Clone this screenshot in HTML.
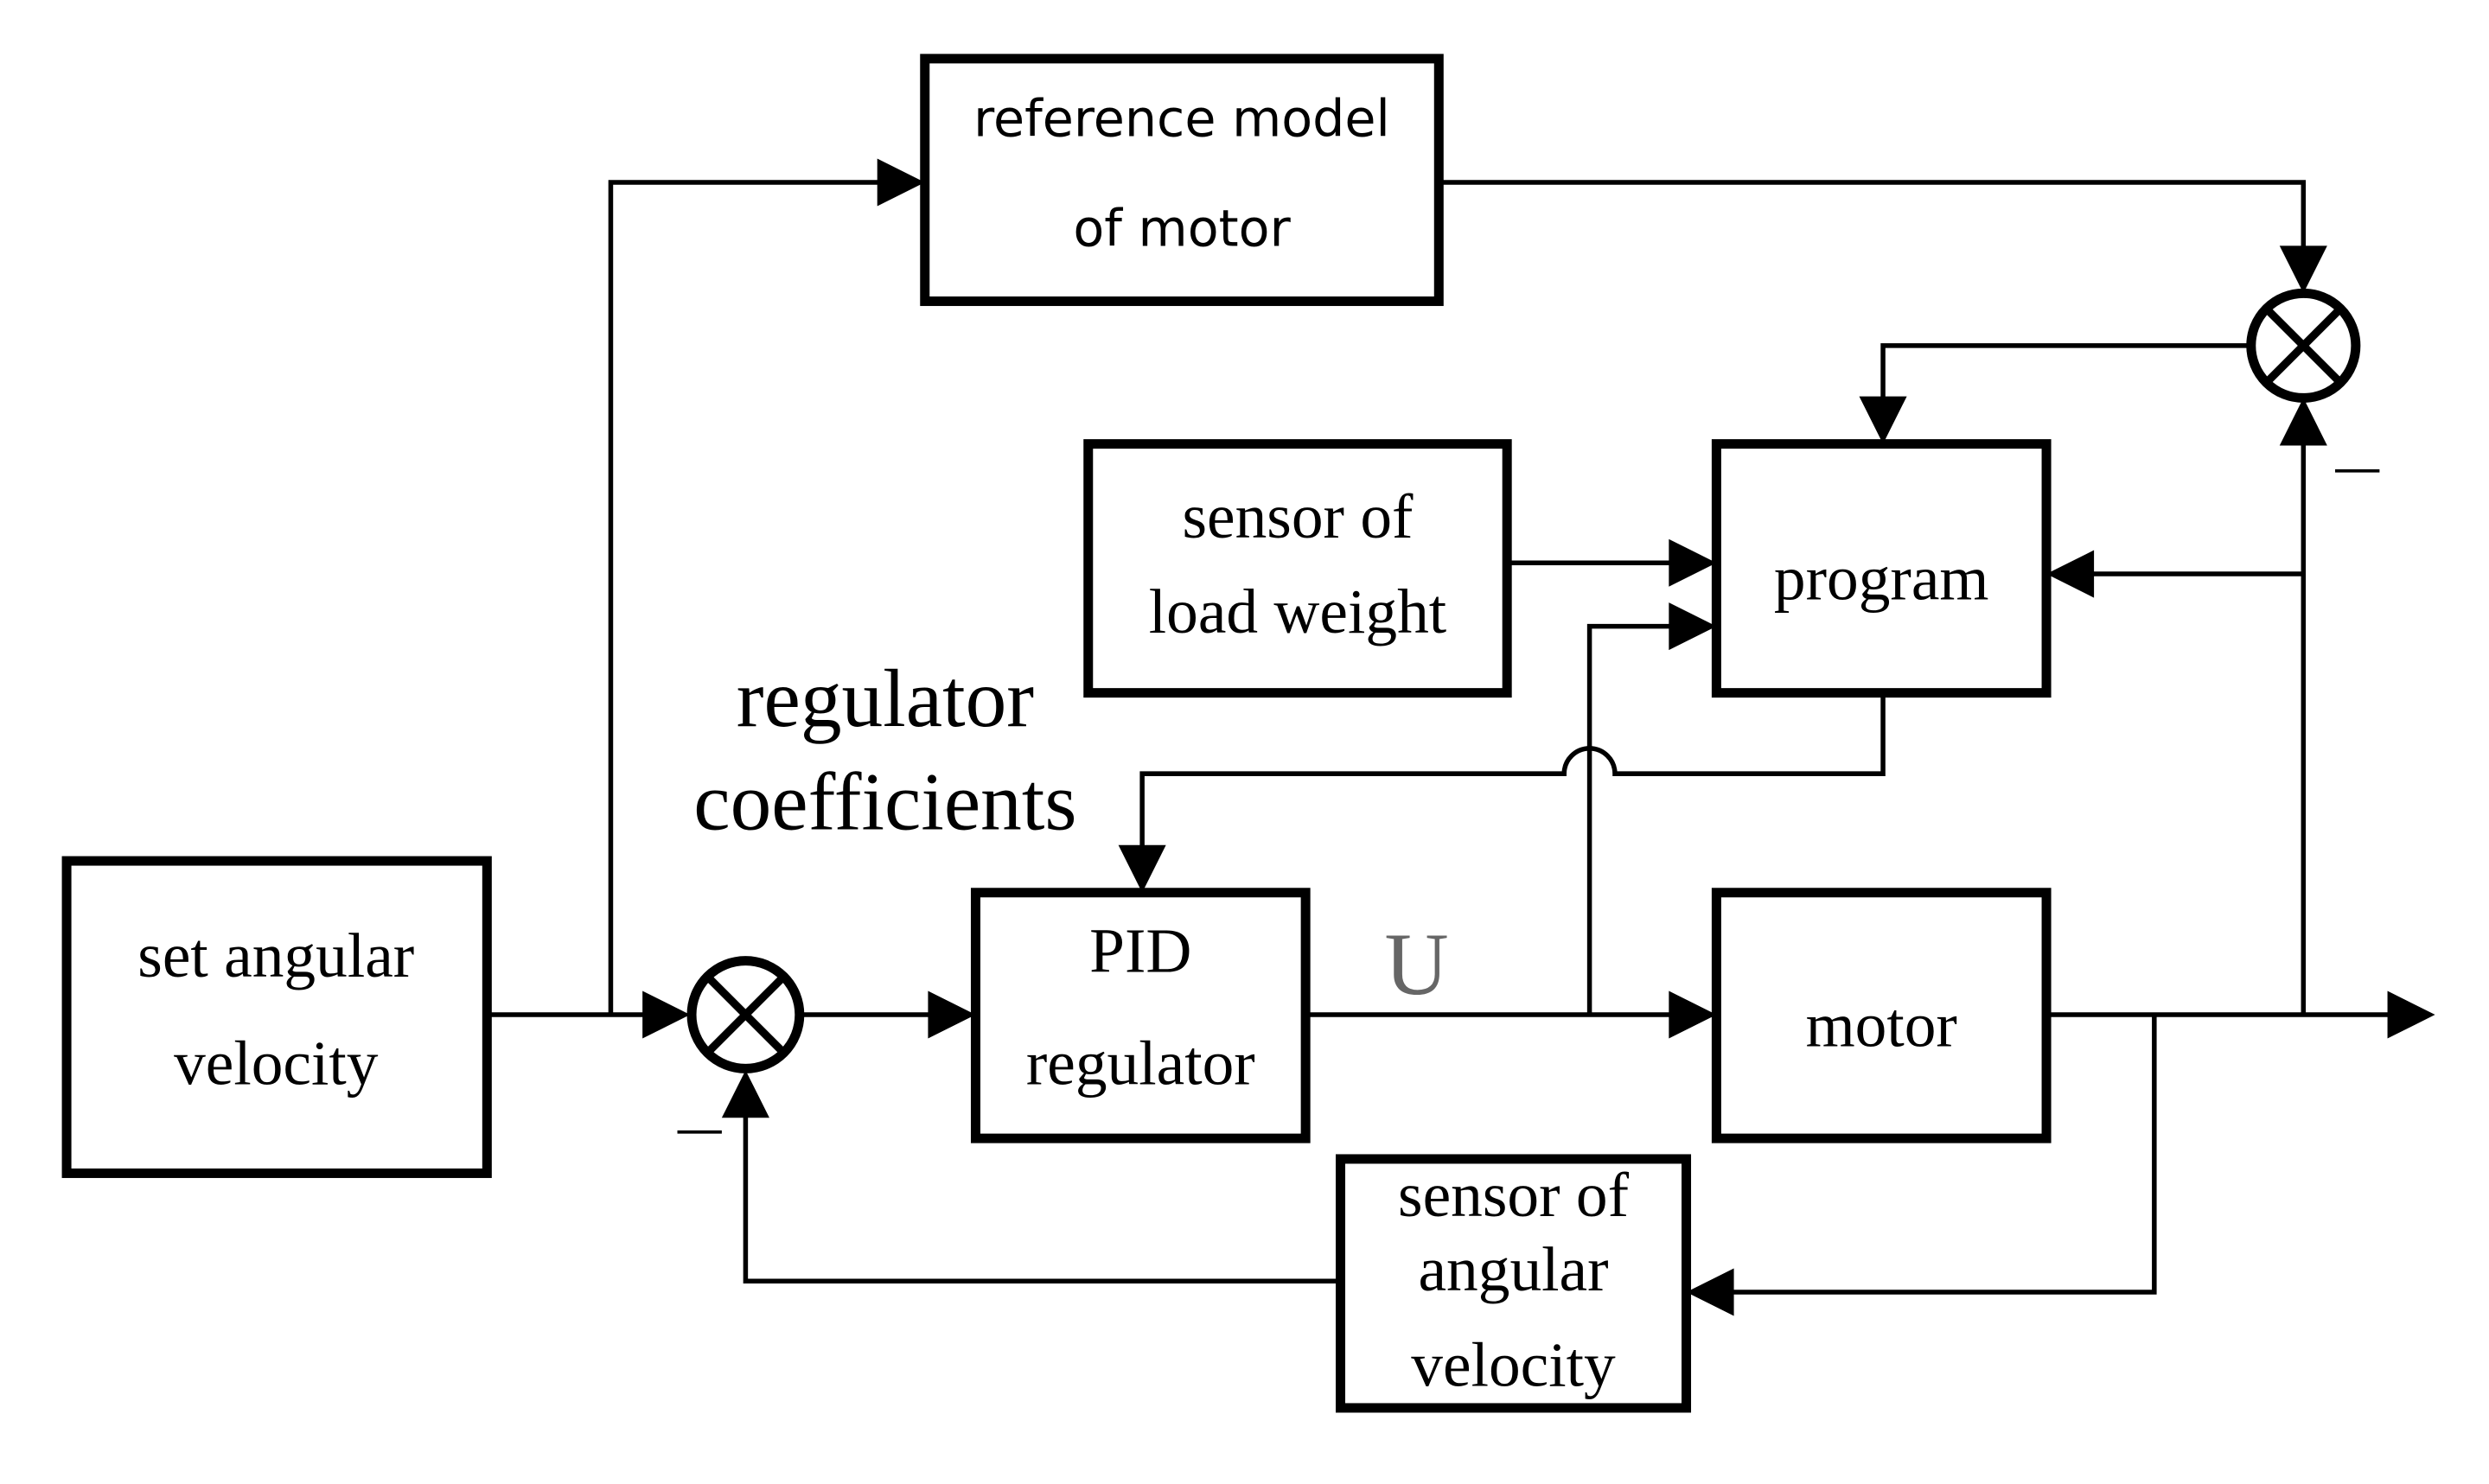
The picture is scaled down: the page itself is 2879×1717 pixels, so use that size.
<!DOCTYPE html>
<html><head><style>html,body{margin:0;padding:0;background:#fff}svg{display:block}</style></head>
<body>
<svg width="2879" height="1717" viewBox="0 0 1569 936" preserveAspectRatio="none" xmlns="http://www.w3.org/2000/svg">
<g fill="none" stroke="#000" stroke-width="6">
<rect x="42" y="543" width="265" height="197"/>
<rect x="583" y="37" width="324" height="153"/>
<rect x="686" y="280" width="264" height="157"/>
<rect x="1082" y="280" width="208" height="157"/>
<rect x="615" y="563" width="208" height="155"/>
<rect x="1082" y="563" width="208" height="155"/>
<rect x="845" y="731" width="218" height="157"/>
<circle cx="470" cy="640" r="34"/>
<circle cx="1452" cy="218" r="33"/>
</g>
<g stroke="#000" stroke-width="5">
<line x1="446" y1="616" x2="494" y2="664"/><line x1="494" y1="616" x2="446" y2="664"/>
<line x1="1429" y1="195" x2="1475" y2="241"/><line x1="1475" y1="195" x2="1429" y2="241"/>
</g>
<g fill="none" stroke="#000" stroke-width="3">
<polyline points="307,640 410,640"/>
<polyline points="385,640 385,115 560,115"/>
<polyline points="907,115 1452,115 1452,162"/>
<polyline points="1419,218 1187,218 1187,258"/>
<polyline points="1452,640 1452,274"/>
<polyline points="1452,362 1312,362"/>
<polyline points="950,355 1060,355"/>
<polyline points="1002,640 1002,395 1060,395"/>
<path d="M1187,437 L1187,488 L1030,488 L1018,488 A16,16 0 0 0 986,488 L720,488 L720,541"/>
<polyline points="505,640 593,640"/>
<polyline points="823,640 1060,640"/>
<polyline points="1290,640 1510,640"/>
<polyline points="1358,640 1358,815 1085,815"/>
<polyline points="845,808 470,808 470,697"/>
</g>
<g fill="#000">
<polygon points="435,640 405,625 405,655"/>
<polygon points="583,115 553,100 553,130"/>
<polygon points="1452,185 1437,155 1467,155"/>
<polygon points="1187,280 1172,250 1202,250"/>
<polygon points="1452,251 1437,281 1467,281"/>
<polygon points="1290,362 1320,347 1320,377"/>
<polygon points="1082,355 1052,340 1052,370"/>
<polygon points="1082,395 1052,380 1052,410"/>
<polygon points="720,563 705,533 735,533"/>
<polygon points="615,640 585,625 585,655"/>
<polygon points="1082,640 1052,625 1052,655"/>
<polygon points="1535,640 1505,625 1505,655"/>
<polygon points="1063,815 1093,800 1093,830"/>
<polygon points="470,675 455,705 485,705"/>
</g>
<g stroke="#000" stroke-width="2">
<line x1="427" y1="714" x2="455" y2="714"/>
<line x1="1472" y1="297" x2="1500" y2="297"/>
</g>
<g font-family="'Liberation Serif',serif" font-size="40" text-anchor="middle" fill="#000">
<text x="745" y="86" font-family="'DejaVu Sans',sans-serif" font-size="32">reference model</text>
<text x="745" y="155" font-family="'DejaVu Sans',sans-serif" font-size="32">of motor</text>
<text x="174" y="616">set angular</text>
<text x="174" y="684">velocity</text>
<text x="818" y="339">sensor of</text>
<text x="818" y="399">load weight</text>
<text x="1186" y="378">program</text>
<text x="719" y="613">PID</text>
<text x="719" y="684">regulator</text>
<text x="1186" y="660">motor</text>
<text x="954" y="767">sensor of</text>
<text x="954" y="814">angular</text>
<text x="954" y="874">velocity</text>
<text x="558" y="458" font-size="52">regulator</text>
<text x="558" y="523" font-size="52">coefficients</text>
<text x="893" y="627" font-size="56" fill="#666">U</text>
</g>
</svg>
</body></html>
